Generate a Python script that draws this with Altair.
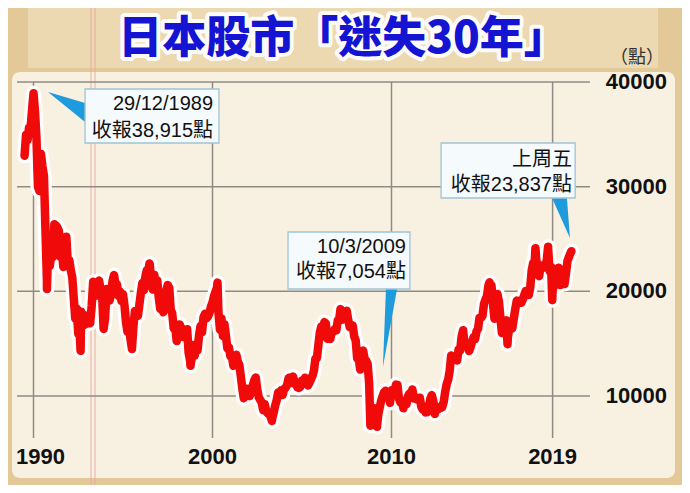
import altair as alt
import pandas as pd

# ---------------- data (Nikkei 225, month-end closes) ----------------
closes = {
    1989: [None, None, None, None, None, 32949, 34954, 34431, 35637, 35549, 37269, 38916],
    1990: [37189, 34592, 29980, 29585, 33131, 31940, 31036, 25978, 20984, 25194, 22455, 23849],
    1991: [23293, 26409, 26292, 26111, 25790, 23291, 23900, 22336, 23916, 25222, 22687, 22984],
    1992: [22023, 21339, 19346, 17391, 18348, 15952, 15910, 18061, 17399, 16768, 17684, 16925],
    1993: [17024, 16953, 18591, 20919, 20552, 19590, 20380, 21027, 20106, 19703, 16408, 17417],
    1994: [20229, 19997, 19112, 19725, 20974, 21552, 20642, 20629, 19564, 19990, 19076, 19723],
    1995: [18650, 17054, 16140, 16807, 15437, 14517, 16678, 18117, 17913, 17655, 18744, 19868],
    1996: [20813, 20125, 21407, 22041, 21956, 22531, 20693, 20167, 21556, 20467, 21020, 19361],
    1997: [18330, 18557, 18003, 19151, 20068, 20605, 20331, 18229, 17888, 16459, 16636, 15258],
    1998: [16628, 16832, 16527, 15641, 15671, 15830, 16379, 14108, 13406, 13565, 14883, 13842],
    1999: [14499, 14368, 15837, 16702, 16112, 17530, 17862, 17437, 17605, 17942, 18558, 18934],
    2000: [19540, 19960, 20337, 17974, 16332, 17411, 15727, 16861, 15747, 14540, 14649, 13786],
    2001: [13844, 12884, 12999, 13934, 13262, 12969, 11861, 10714, 9775, 10367, 10697, 10543],
    2002: [9998, 10588, 11025, 11493, 11764, 10622, 9878, 9619, 9383, 8640, 9216, 8579],
    2003: [8340, 8363, 7973, 7831, 8425, 9083, 9563, 10344, 10219, 10560, 10101, 10677],
    2004: [10784, 11042, 11715, 11762, 11236, 11859, 11326, 11082, 10824, 10771, 10899, 11489],
    2005: [11388, 11741, 11668, 11009, 11277, 11584, 11900, 12414, 13574, 13607, 14872, 16111],
    2006: [16650, 16205, 17060, 16906, 15467, 15505, 15457, 16141, 16128, 16399, 16274, 17226],
    2007: [17383, 17604, 17288, 17400, 17876, 18138, 17248, 16569, 16786, 16737, 15681, 15308],
    2008: [13592, 13603, 12526, 13850, 14339, 13481, 13377, 13073, 11260, 8577, 8512, 8860],
    2009: [7994, 7568, 8110, 8828, 9523, 9958, 10357, 10493, 10133, 10035, 9346, 10546],
    2010: [10198, 10126, 11090, 11057, 9769, 9383, 9537, 8824, 9369, 9202, 9937, 10229],
    2011: [10238, 10624, 9755, 9850, 9694, 9816, 9833, 8955, 8700, 8988, 8435, 8455],
    2012: [8803, 9723, 10084, 9521, 8543, 9007, 8695, 8840, 8870, 8928, 9446, 10395],
    2013: [11139, 11559, 12398, 13861, 13775, 13677, 13668, 13389, 14456, 14328, 15662, 16291],
    2014: [14915, 14841, 14828, 14304, 14632, 15162, 15621, 15425, 16174, 16414, 17460, 17451],
    2015: [17674, 18798, 19207, 19520, 20563, 20236, 20585, 18890, 17388, 19083, 19747, 19034],
    2016: [17518, 16027, 16759, 16666, 17235, 15576, 16569, 16887, 16450, 17425, 18308, 19114],
    2017: [19041, 19119, 18909, 19197, 19651, 20033, 19925, 19646, 20356, 22012, 22725, 22765],
    2018: [23098, 22068, 21454, 22468, 22202, 22305, 22554, 22865, 24120, 21920, 22351, 20015],
    2019: [20773, 21385, 21206, 22259, 20601, 21276, 21522, 20704, 21756, 22927, 23294, 23657],
}
# intra-month extremes and the last close
extra_t = [1990.75, 1992.63, 1995.50, 1996.48, 1998.77, 2000.28, 2003.32, 2007.15,
           2008.82, 2009.19, 2012.42, 2015.48, 2016.48, 2018.04, 2018.75, 2018.98, 2020.05]
extra_v = [20222, 14309, 14485, 22666, 12880, 20833, 7607, 18300,
           7163, 7054, 8295, 20868, 14952, 24124, 24270, 19155, 23837]

y_ticks = [10000, 20000, 30000, 40000]
x_ticks = [1990, 2000, 2010, 2019]

title_text = "日本股市「迷失30年」"
unit_text = "（點）"

ann_lines = [
    ["29/12/1989", "收報38,915點"],
    ["10/3/2009", "收報7,054點"],
    ["上周五", "收報23,837點"],
]

# ---------------- build tables ----------------
rows = []
for yr, vals in closes.items():
    for m, v in enumerate(vals, start=1):
        if v is not None:
            rows.append({"t": yr + m / 12.0, "v": v})
for t, v in zip(extra_t, extra_v):
    rows.append({"t": t, "v": v})
series = pd.DataFrame(rows).sort_values("t").reset_index(drop=True)

# callout geometry in data units (year, points)
boxes = pd.DataFrame({
    "x1": [1992.88, 2004.22, 2012.77], "x2": [2000.36, 2011.03, 2020.26],
    "y1": [34172, 20223, 28917], "y2": [39331, 25669, 34172],
})
ptr_h = pd.DataFrame({"t": [1990.81, 1992.88], "a": [39044, 37993], "b": [39044, 36178]})
ptr_v = pd.DataFrame({
    "id": [2, 2, 3, 3],
    "v": [20223, 12771, 28917, 25095],
    "a": [2009.69, 2009.52, 2018.97, 2019.97],
    "b": [2010.31, 2009.52, 2019.80, 2019.97],
})
ann_text = pd.DataFrame({
    "t": [2000.03, 2000.03, 2010.81, 2010.81, 2020.08, 2020.08],
    "v": [37898, 35318, 24235, 21847, 32547, 30159],
    "s": [ann_lines[0][0], ann_lines[0][1], ann_lines[1][0], ann_lines[1][1],
          ann_lines[2][0], ann_lines[2][1]],
})

W, H = 674, 477
xs = alt.Scale(domain=[1988.5754, 2026.229], nice=False, zero=False)
ys = alt.Scale(domain=[1497, 47070], nice=False, zero=False)
one = pd.DataFrame({"k": [0]})

paper = alt.Chart(one).mark_rect(color="#f8f1e2", cornerRadius=8).encode(
    x=alt.value(4), x2=alt.value(667), y=alt.value(64), y2=alt.value(470))
top_band = alt.Chart(one).mark_rect(color="#eddcb8", opacity=0.8).encode(
    x=alt.value(20), x2=alt.value(650), y=alt.value(0), y2=alt.value(60))
pink1 = alt.Chart(one).mark_rule(color="#e6a9a2", strokeWidth=1.5, opacity=0.6).encode(
    x=alt.value(83), y=alt.value(0), y2=alt.value(H))
pink2 = alt.Chart(one).mark_rule(color="#e6a9a2", strokeWidth=1.5, opacity=0.6).encode(
    x=alt.value(87), y=alt.value(0), y2=alt.value(H))

hgrid = alt.Chart(pd.DataFrame({"v": y_ticks})).mark_rule(color="#8f8b84", strokeWidth=1.5).encode(
    y=alt.Y("v:Q", scale=ys, axis=None), x=alt.value(9), x2=alt.value(582))
vgrid = alt.Chart(pd.DataFrame({"t": x_ticks})).mark_rule(color="#8f8b84", strokeWidth=1.5).encode(
    x=alt.X("t:Q", scale=xs, axis=None), y=alt.value(74), y2=alt.value(430))

halo = alt.Chart(series).mark_line(color="white", strokeWidth=15, strokeJoin="round", strokeCap="round").encode(
    x=alt.X("t:Q", scale=xs, axis=None), y=alt.Y("v:Q", scale=ys, axis=None))
line = alt.Chart(series).mark_line(color="#f00a0a", strokeWidth=8.5, strokeJoin="round", strokeCap="round").encode(
    x=alt.X("t:Q", scale=xs, axis=None), y=alt.Y("v:Q", scale=ys, axis=None))

p1 = alt.Chart(ptr_h).mark_area(color="#1e9bdc", orient="vertical").encode(
    x=alt.X("t:Q", scale=xs, axis=None), y=alt.Y("a:Q", scale=ys, axis=None), y2="b:Q")
p2 = alt.Chart(ptr_v).mark_area(color="#1e9bdc", orient="horizontal").encode(
    y=alt.Y("v:Q", scale=ys, axis=None), x=alt.X("a:Q", scale=xs, axis=None), x2="b:Q",
    detail="id:N")
box = alt.Chart(boxes).mark_rect(fill="#f5fafd", stroke="#9fc3d6", strokeWidth=1.3).encode(
    x=alt.X("x1:Q", scale=xs, axis=None), x2="x2:Q",
    y=alt.Y("y1:Q", scale=ys, axis=None), y2="y2:Q")
btxt = alt.Chart(ann_text).mark_text(align="right", baseline="middle", fontSize=20,
                                     font="Liberation Sans, Noto Sans CJK TC", color="#111111").encode(
    x=alt.X("t:Q", scale=xs, axis=None), y=alt.Y("v:Q", scale=ys, axis=None), text="s:N")

ylab = alt.Chart(pd.DataFrame({"v": y_ticks})).mark_text(
    align="right", baseline="middle", fontSize=22, fontWeight="bold",
    font="Liberation Sans", color="#111111").encode(
    y=alt.Y("v:Q", scale=ys, axis=None), x=alt.value(659), text=alt.Text("v:Q", format="d"))
xdf = pd.DataFrame({"t": x_ticks, "s": [str(v) for v in x_ticks]})
xlab_first = alt.Chart(xdf.iloc[:1]).mark_text(
    align="center", baseline="middle", fontSize=22, fontWeight="bold", dx=7,
    font="Liberation Sans", color="#111111").encode(
    x=alt.X("t:Q", scale=xs, axis=None), y=alt.value(449), text="s:N")
xlab_rest = alt.Chart(xdf.iloc[1:]).mark_text(
    align="center", baseline="middle", fontSize=22, fontWeight="bold",
    font="Liberation Sans", color="#111111").encode(
    x=alt.X("t:Q", scale=xs, axis=None), y=alt.value(449), text="s:N")
unit = alt.Chart(pd.DataFrame({"s": [unit_text]})).mark_text(
    align="center", baseline="middle", fontSize=18, font="Noto Sans CJK TC", color="#333333").encode(
    x=alt.value(629), y=alt.value(50), text="s:N")

tdf = pd.DataFrame({"s": [title_text]})
title_glow = alt.Chart(tdf).mark_text(
    align="center", baseline="middle", fontSize=44, fontWeight=900, font="Noto Sans CJK TC",
    color="white", stroke="white", strokeWidth=8, strokeJoin="round", opacity=0.9).encode(
    x=alt.value(335), y=alt.value(32), text="s:N")
title = alt.Chart(tdf).mark_text(
    align="center", baseline="middle", fontSize=44, fontWeight=900, font="Noto Sans CJK TC",
    color="#1414d2").encode(
    x=alt.value(335), y=alt.value(32), text="s:N")

chart = alt.layer(
    top_band, paper, pink1, pink2, hgrid, vgrid, halo, line, p1, p2, box, btxt,
    ylab, xlab_first, xlab_rest, unit, title_glow, title
).properties(
    width=W, height=H, padding=0, background="#e4c998",
    autosize=alt.AutoSizeParams(type="none")
).configure_view(stroke=None)

chart.save("out.html", embed_options={"renderer": "svg", "actions": False})
